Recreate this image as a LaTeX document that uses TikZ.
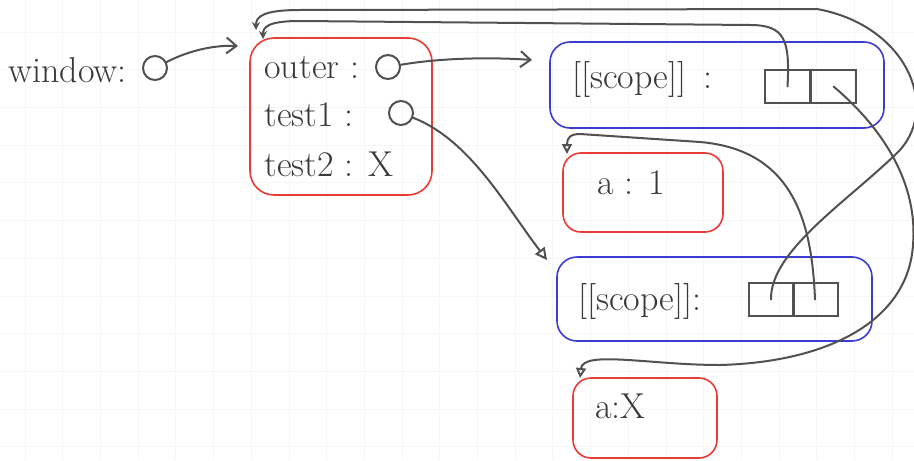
\documentclass[tikz,border=0pt]{standalone}
\usepackage{tikz}
\usetikzlibrary{arrows.meta}
\definecolor{pencil}{RGB}{85,80,80}
\definecolor{redink}{RGB}{232,60,55}
\definecolor{blueink}{RGB}{60,60,210}
\definecolor{gridink}{RGB}{246,246,246}
\newcommand{\lblfont}{\fontsize{18}{21}\selectfont}

\begin{document}
\begin{tikzpicture}[x=0.5pt,y=-0.5pt,
  wire/.style={draw=pencil,line width=1pt,line cap=round},
  redbox/.style={draw=redink,line width=0.8pt,rounded corners=9pt},
  bluebox/.style={draw=blueink,line width=0.8pt,rounded corners=10pt},
  cell/.style={draw=pencil,line width=1pt,minimum width=22.5pt,minimum height=16.5pt,inner sep=0pt},
  ptr/.style={draw=pencil,line width=1pt,circle,minimum size=12pt,inner sep=0pt},
  lbl/.style={anchor=west,inner sep=0pt,text=pencil!70!black,font=\lblfont}]
  \useasboundingbox (0,0) rectangle (914,460);
  \fill[white] (0,0) rectangle (914,460);

  %paper grid
  \foreach \gx in {25,62.7,...,914} \draw[gridink,line width=0.4pt] (\gx,0) -- (\gx,460);
  \foreach \gy in {32,69.7,...,460} \draw[gridink,line width=0.4pt] (0,\gy) -- (914,\gy);

  %window
  \node[lbl] (wlbl) at (8,70) {window:};
  \node[ptr] (wp) at (155,68) {};

  %global object
  \node[redbox,rounded corners=12pt,minimum width=91pt,minimum height=78.5pt] (glob) at (341,116.5) {};
  \node[lbl] (olbl) at (264,68) {outer :};
  \node[ptr] (op) at (388,67) {};
  \node[lbl] (t1lbl) at (264,115) {test1 :};
  \node[ptr] (t1p) at (401,113) {};
  \node[lbl] (t2lbl) at (264,164) {test2 : X};

  %outer [[scope]]
  \node[bluebox,minimum width=167pt,minimum height=43pt] (scope1) at (717,85) {};
  \node[lbl] (s1lbl) at (572,80) {[[scope]] \,:};
  \node[cell] (s1a) at (787.5,86.5) {};
  \node[cell] (s1b) at (833.5,86.5) {};

  %a : 1
  \node[redbox,minimum width=80pt,minimum height=39.5pt] (ao1) at (643,192.5) {};
  \node[lbl] (ao1lbl) at (597,183) {a : 1};

  %test1 [[scope]]
  \node[bluebox,minimum width=157.5pt,minimum height=42pt] (scope2) at (714.5,299) {};
  \node[lbl] (s2lbl) at (578,301) {[[scope]]:};
  \node[cell] (s2a) at (771,299.5) {};
  \node[cell] (s2b) at (815,299.5) {};

  %a : X
  \node[redbox,minimum width=72pt,minimum height=40pt] (ao2) at (645,418) {};
  \node[lbl] (ao2lbl) at (595,406) {a:X};

  %arrow ends
  \coordinate (gin) at (238,46);
  \coordinate (gtop1) at (256,30);
  \coordinate (gtop2) at (263,39);
  \coordinate (s1tip) at (532,60);
  \coordinate (s2tip) at (547,260);
  \coordinate (ao1tip) at (567,154);
  \coordinate (ao2tip) at (580,378);

  \draw[wire,-{Straight Barb[length=5pt,width=8pt]}] (wp) .. controls (190,50) and (215,45) .. (gin);
  \draw[wire,-{Straight Barb[length=5pt,width=8pt]}] (op) .. controls (440,58) and (490,57) .. (s1tip);
  \draw[wire,-{Triangle[open,length=6pt,width=6pt]}] (t1p) .. controls (470,140) and (505,205) .. (s2tip);

  %scope chains
  \draw[wire,-{Stealth[length=4pt,width=4pt]}] (s1a.center) .. controls (790,40) and (785,25) .. (750,25) -- (300,21) .. controls (268,21) and (263,27) .. (gtop2);
  \draw[wire,-{Stealth[length=4pt,width=4pt]}] (s2a.center) .. controls (770,250) and (850,200) .. (900,150) .. controls (940,105) and (905,25) .. (817,9) -- (300,10) .. controls (262,10) and (256,17) .. (gtop1);
  \draw[wire,-{Triangle[open,length=5pt,width=5pt]}] (s1b.center) .. controls (885,130) and (918,185) .. (913,245) .. controls (908,320) and (830,362) .. (720,365) .. controls (650,365) and (583,350) .. (ao2tip);
  \draw[wire,-{Triangle[open,length=5pt,width=5pt]}] (s2b.center) .. controls (812,225) and (795,150) .. (700,142) -- (580,134) .. controls (570,134) and (567,138) .. (ao1tip);
\end{tikzpicture}
\end{document}
